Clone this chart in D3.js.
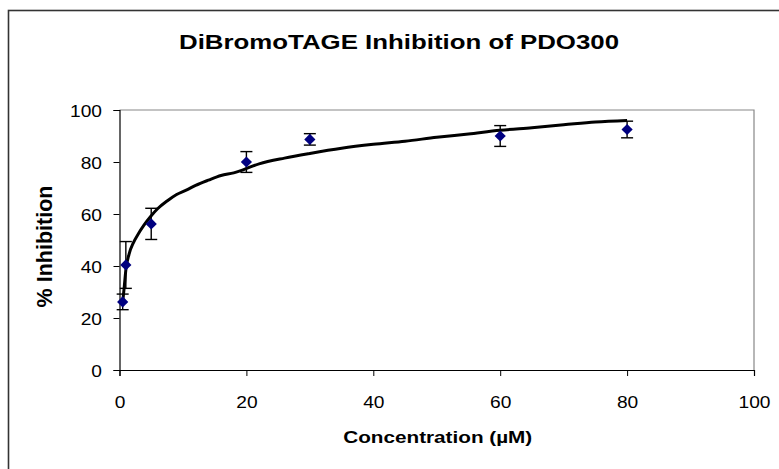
<!DOCTYPE html>
<html>
<head>
<meta charset="utf-8">
<script src="https://cdn.jsdelivr.net/npm/d3@7"></script>
<style>
  body { margin: 0; background: #fff; }
  text { font-family: "Liberation Sans", Arial, sans-serif; fill: #000; }
</style>
</head>
<body>
<svg id="chart"></svg>
<script>
////////////
// DATA
////////////

// measured points (concentration in µM, % inhibition, error)
const concentration = [0.5, 1, 5, 20, 30, 60, 80];
const inhibition = [26.2, 40.4, 56.2, 80, 88.7, 90, 92.5];
const errorBar = [3, 9, 6, 4, 2.2, 4, 3.2];

// fitted curve
const fitX = [0.5, 0.75, 1, 1.5, 2.2, 3, 3.8, 5, 6, 7.5, 9, 10.6, 12, 14, 16, 18, 22, 26, 30, 35, 40, 45, 50, 55, 60, 65, 70, 75, 80];
const fitY = [26, 32, 38.5, 44.5, 49, 52.5, 55.5, 59.3, 62, 65, 67.5, 69.3, 71, 73, 74.8, 75.8, 79.3, 81.5, 83.3, 85.3, 86.8, 88, 89.5, 90.8, 92.2, 93.2, 94.3, 95.4, 96];

const xTicks = [0, 20, 40, 60, 80, 100];
const yTicks = [0, 20, 40, 60, 80, 100];

const chartTitle = "DiBromoTAGE Inhibition of PDO300";
const xTitle = "Concentration (µM)";
const yTitle = "% Inhibition";

////////////
// SETTINGS
////////////
const width = 779, height = 469;
const plot = { left: 119.5, right: 754, top: 110, bottom: 370 };

const svg = d3.select("#chart").attr("width", width).attr("height", height);

const x = d3.scaleLinear().domain([0, 100]).range([plot.left, plot.right]);
const y = d3.scaleLinear().domain([0, 100]).range([plot.bottom, plot.top]);

////////////
// DRAWING
////////////

// outer chart border (runs off the right and bottom of the picture)
svg.append("rect")
    .attr("x", 8.5).attr("y", 10.5)
    .attr("width", 900).attr("height", 600)
    .style("fill", "none")
    .style("stroke", "#333")
    .style("stroke-width", 1.6);

// plot area frame, grey on top and right
svg.append("path")
    .attr("d", `M${plot.left},${plot.top}H${plot.right}V${plot.bottom}`)
    .style("fill", "none")
    .style("stroke", "#888")
    .style("stroke-width", 1.2);

// axes
const xAxis = svg.append("g")
    .attr("transform", `translate(0,${plot.bottom})`)
    .call(d3.axisBottom(x).tickValues(xTicks).tickSize(6).tickPadding(0));
xAxis.select(".domain").style("stroke", "#000").style("stroke-width", 1.2);
xAxis.selectAll(".tick line").style("stroke", "#000").style("stroke-width", 1);
xAxis.selectAll(".tick text")
    .attr("y", 0).attr("dy", 0)
    .attr("transform", "translate(0,37.5) scale(1.13,1)")
    .style("font-size", "17px");

const yAxis = svg.append("g")
    .attr("transform", `translate(${plot.left},0)`)
    .call(d3.axisLeft(y).tickValues(yTicks).tickSize(6).tickPadding(0));
yAxis.select(".domain").style("stroke", "#000").style("stroke-width", 1.2);
yAxis.selectAll(".tick line").style("stroke", "#000").style("stroke-width", 1);
yAxis.selectAll(".tick text")
    .attr("x", 0).attr("dy", "0.36em")
    .attr("transform", "translate(-17.5,0) scale(1.13,1)")
    .style("font-size", "17px");

// titles
svg.append("text")
    .attr("x", 399).attr("y", 49)
    .attr("text-anchor", "middle")
    .attr("textLength", 440)
    .attr("lengthAdjust", "spacingAndGlyphs")
    .style("font-size", "20px")
    .style("font-weight", "bold")
    .text(chartTitle);

svg.append("text")
    .attr("x", (plot.left + plot.right) / 2 + 1).attr("y", 443)
    .attr("text-anchor", "middle")
    .attr("textLength", 189)
    .attr("lengthAdjust", "spacingAndGlyphs")
    .style("font-size", "17px")
    .style("font-weight", "bold")
    .text(xTitle);

svg.append("text")
    .attr("transform", "translate(51.5,246.5) rotate(-90)")
    .attr("text-anchor", "middle")
    .style("font-size", "21.5px")
    .style("font-weight", "bold")
    .text(yTitle);

// fitted curve
const fitLine = d3.line()
    .x((d, i) => x(fitX[i]))
    .y((d, i) => y(fitY[i]))
    .curve(d3.curveMonotoneX);

svg.append("path")
    .datum(fitX)
    .attr("d", fitLine)
    .style("fill", "none")
    .style("stroke", "#000")
    .style("stroke-width", 3)
    .style("stroke-linejoin", "round");

// error bars
const points = concentration.map((c, i) => ({ c: c, v: inhibition[i], e: errorBar[i] }));
const capHalf = 6;

const bars = svg.append("g").attr("class", "errors")
    .style("stroke", "#000")
    .style("stroke-width", 1.4);

bars.selectAll(".stem")
    .data(points)
    .join("line")
    .attr("class", "stem")
    .attr("x1", d => x(d.c)).attr("x2", d => x(d.c))
    .attr("y1", d => y(d.v + d.e)).attr("y2", d => y(d.v - d.e));

bars.selectAll(".capTop")
    .data(points)
    .join("line")
    .attr("class", "capTop")
    .attr("x1", d => x(d.c) - capHalf).attr("x2", d => x(d.c) + capHalf)
    .attr("y1", d => y(d.v + d.e)).attr("y2", d => y(d.v + d.e));

bars.selectAll(".capBottom")
    .data(points)
    .join("line")
    .attr("class", "capBottom")
    .attr("x1", d => x(d.c) - capHalf).attr("x2", d => x(d.c) + capHalf)
    .attr("y1", d => y(d.v - d.e)).attr("y2", d => y(d.v - d.e));

// diamond markers
const diamond = d3.symbol().type(d3.symbolDiamond2).size(80);

svg.append("g").attr("class", "markers")
    .selectAll("path")
    .data(points)
    .join("path")
    .attr("transform", d => `translate(${x(d.c)},${y(d.v)})`)
    .attr("d", diamond)
    .style("fill", "#000080")
    .style("stroke", "none");
</script>
</body>
</html>
